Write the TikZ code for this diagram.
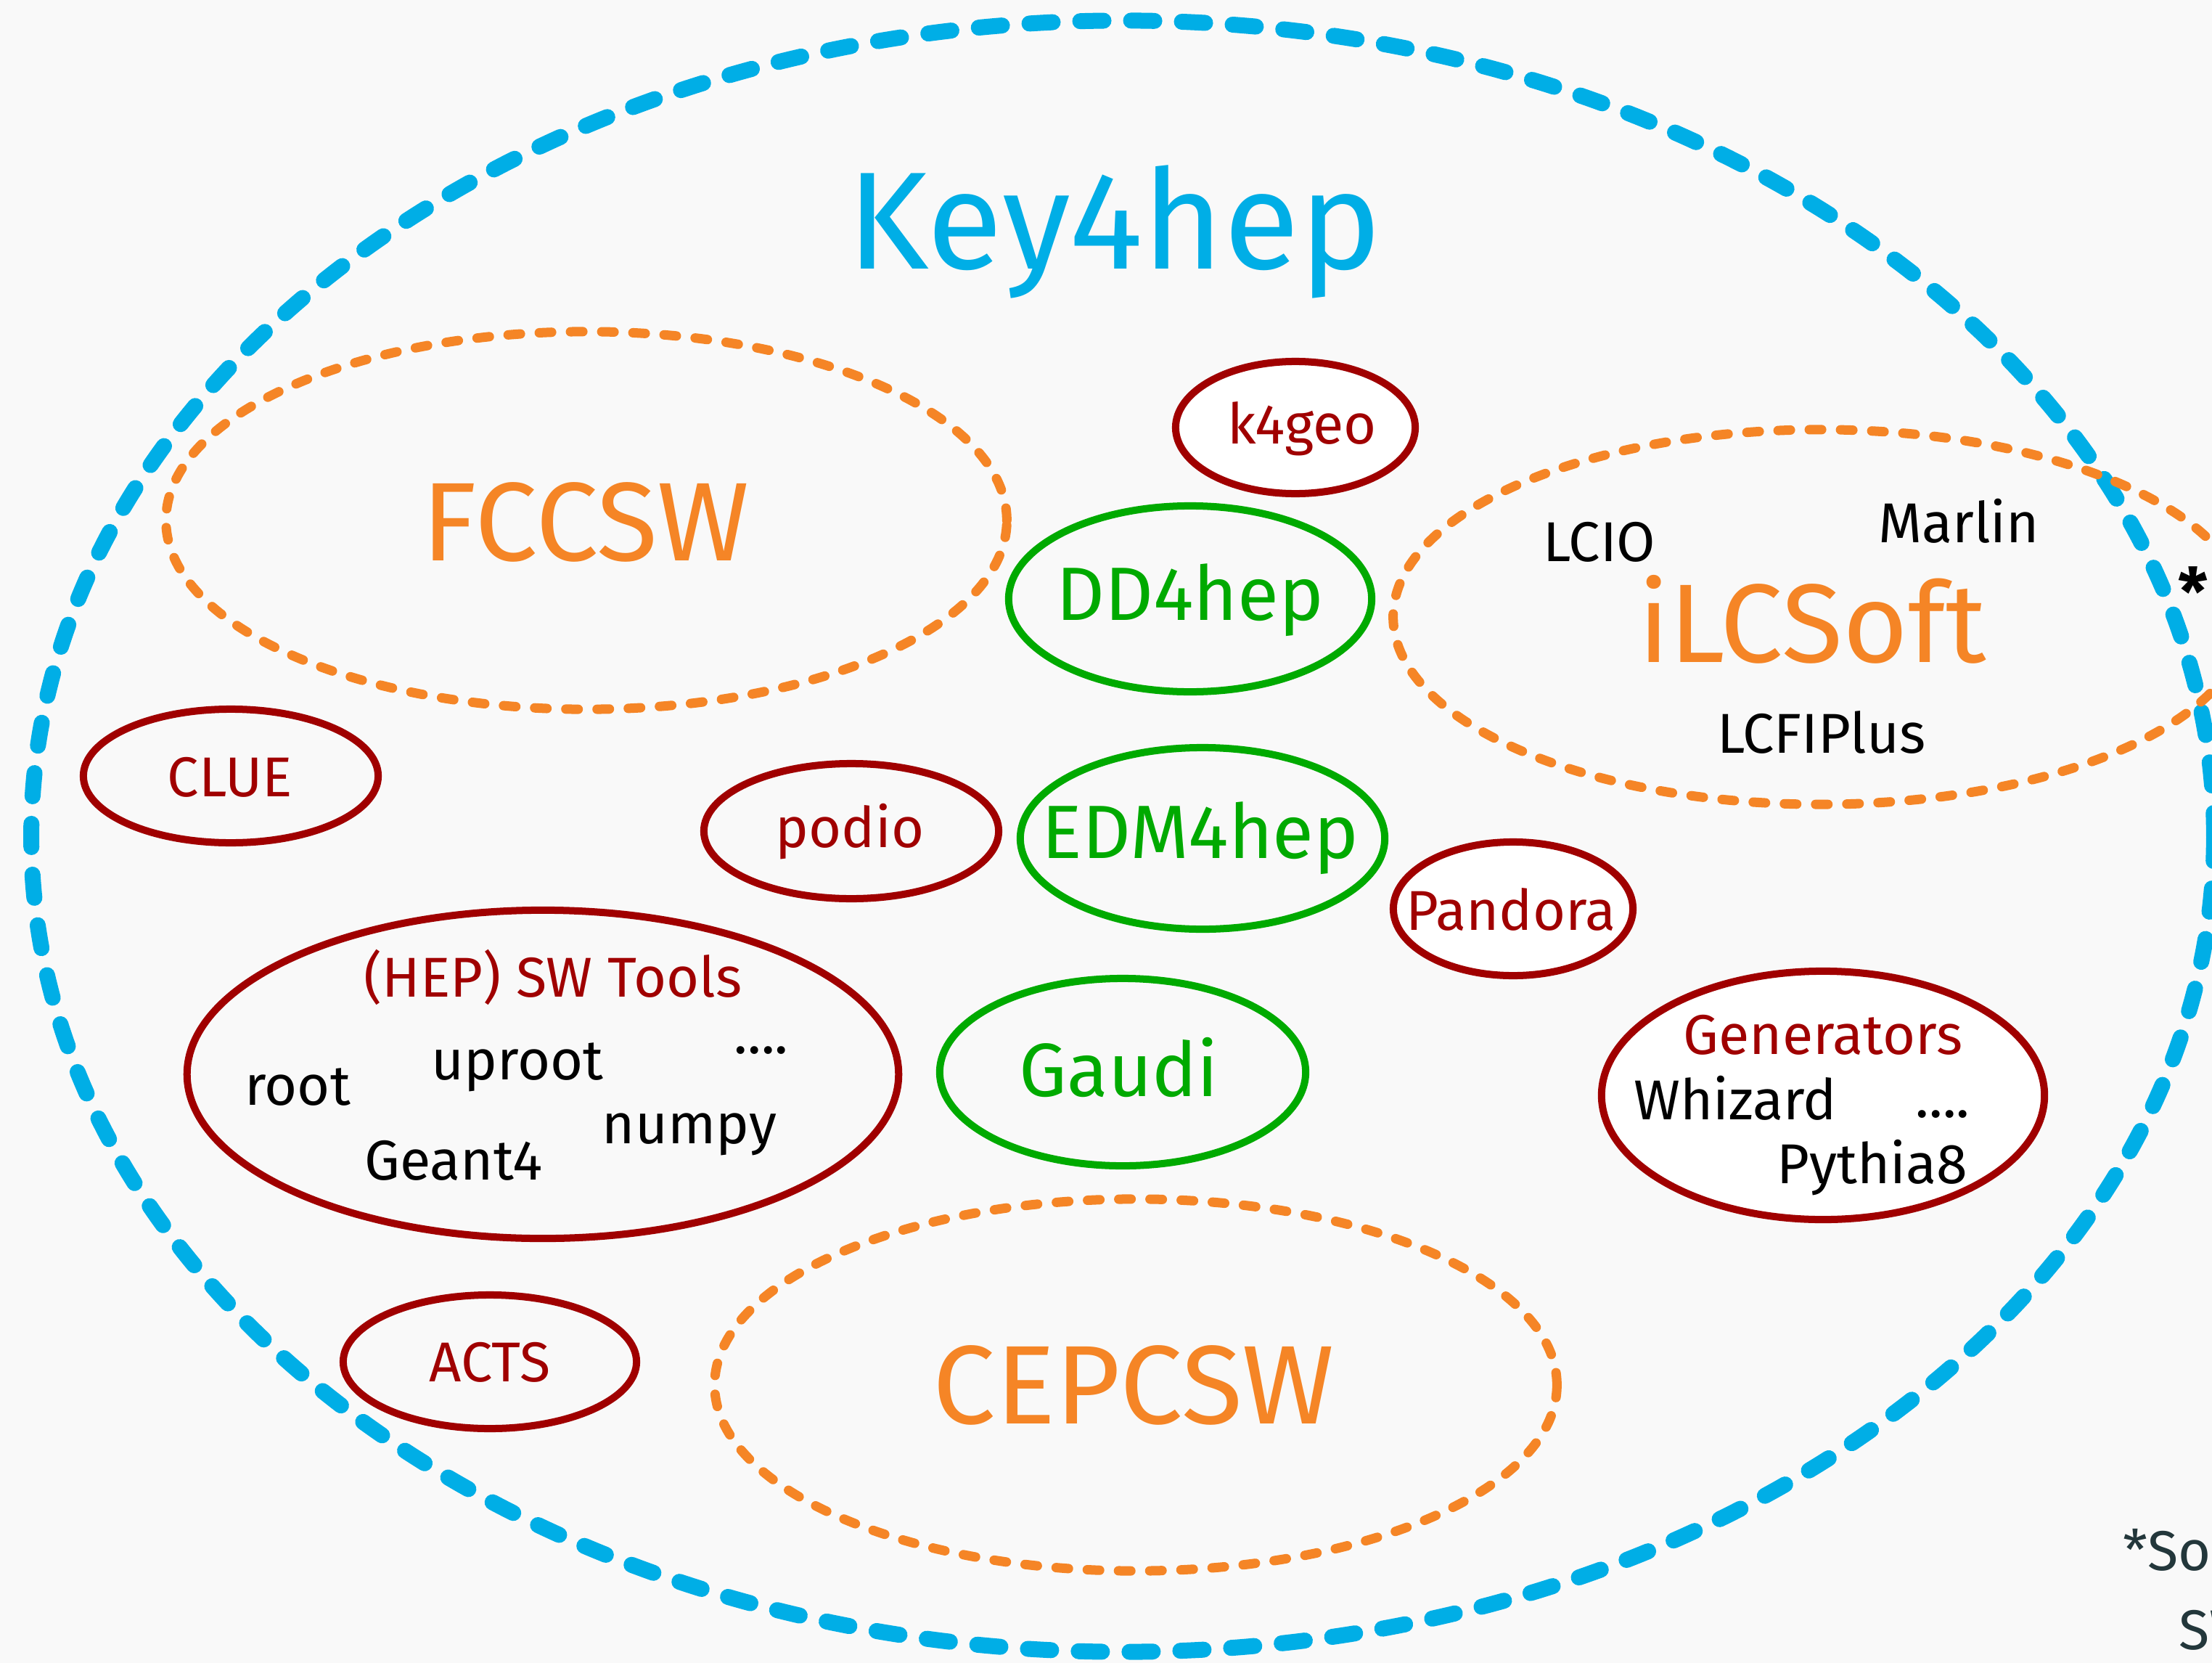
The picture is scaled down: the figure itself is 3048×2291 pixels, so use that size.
\documentclass[tikz,border=0pt]{standalone}
\usepackage{fontspec}
\setmainfont{Fira Sans}
\usetikzlibrary{shapes.geometric}
\definecolor{kblue}{RGB}{0,174,230}
\definecolor{korange}{RGB}{245,133,38}
\definecolor{kred}{RGB}{160,0,0}
\definecolor{kgreen}{RGB}{0,170,0}
\definecolor{kbg}{RGB}{249,249,249}
\definecolor{knote}{RGB}{35,55,59}
\begin{document}
\begin{tikzpicture}[x=0.01cm,y=-0.01cm,
  bluering/.style={draw=kblue, ellipse, line width=0.22cm, dash pattern=on 0.32cm off 0.38cm, line cap=round, inner sep=0pt},
  orangering/.style={draw=korange, ellipse, line width=0.13cm, dash pattern=on 0.17cm off 0.26cm, line cap=round, inner sep=0pt},
  redring/.style={draw=kred, ellipse, line width=0.1cm, inner sep=0pt},
  greenring/.style={draw=kgreen, ellipse, line width=0.1cm, inner sep=0pt},
  txt/.style={anchor=base, inner sep=0pt},
  small/.style={txt, font=\fontsize{22}{26}\selectfont},
  redlbl/.style={small, text=kred},
  blacklbl/.style={small, text=black},
  greenlbl/.style={txt, text=kgreen, font=\fontsize{29.6}{35}\selectfont},
  biglbl/.style={txt, text=korange, font=\fontsize{43.8}{52}\selectfont},
  titlelbl/.style={txt, text=kblue, font=\fontsize{54.3}{64}\selectfont},
  notelbl/.style={anchor=base west, inner sep=0pt, text=knote, font=\fontsize{22}{26}\selectfont}
]
\fill[kbg] (0,0) rectangle (3048,2291);
\useasboundingbox (0,0) rectangle (3048,2291);
\clip (0,0) rectangle (3048,2291);

% outer Key4hep ring
\node[bluering, minimum width=30.06cm, minimum height=22.46cm] (k4h) at (1547,1152) {};
% framework rings
\node[orangering, minimum width=11.58cm, minimum height=5.20cm] (fcc) at (808,717) {};
\node[orangering, minimum width=11.76cm, minimum height=5.16cm] (ilc) at (2508,850) {};
\node[orangering, minimum width=11.60cm, minimum height=5.12cm] (cep) at (1565,1908) {};
% components
\node[redring, fill=white, minimum width=3.30cm, minimum height=1.82cm] (k4geo) at (1785,589) {};
\node[greenring, minimum width=5.00cm, minimum height=2.56cm] (dd4) at (1640,825) {};
\node[greenring, minimum width=5.02cm, minimum height=2.50cm] (edm) at (1657,1155) {};
\node[greenring, minimum width=5.04cm, minimum height=2.58cm] (gaudi) at (1547,1477) {};
\node[redring, minimum width=4.06cm, minimum height=1.86cm] (podio) at (1173,1145) {};
\node[redring, minimum width=4.06cm, minimum height=1.84cm] (clue) at (318,1069) {};
\node[redring, fill=white, minimum width=3.30cm, minimum height=1.84cm] (pandora) at (2085,1252) {};
\node[redring, minimum width=9.80cm, minimum height=4.52cm] (tools) at (748,1480) {};
\node[redring, fill=white, minimum width=6.10cm, minimum height=3.42cm] (gen) at (2512,1509) {};
\node[redring, minimum width=4.04cm, minimum height=1.84cm] (acts) at (675,1876) {};

% labels
\node[titlelbl] (tkey) at (1536,370) {Key4hep};
\node[biglbl] (tfcc) at (807,772) {FCCSW};
\node[biglbl] (tilc) at (2497,912) {iLCSoft};
\node[biglbl] (tcep) at (1562,1961) {CEPCSW};
\node[greenlbl] (tdd4) at (1640,854) {DD4hep};
\node[greenlbl] (tedm) at (1654,1182) {EDM4hep};
\node[greenlbl] (tgaudi) at (1542,1510) {Gaudi};
\node[redlbl] (tk4geo) at (1794,611) {k4geo};
\node[redlbl] (tpodio) at (1171,1167) {podio};
\node[redlbl] (tclue) at (317,1097) {CLUE};
\node[redlbl] (tpandora) at (2082,1281) {Pandora};
\node[redlbl] (tacts) at (675,1903) {ACTS};
\node[redlbl] (ttools) at (762,1373) {(HEP) SW Tools};
\node[blacklbl] (troot) at (410,1522) {root};
\node[blacklbl] (tuproot) at (713,1487) {uproot};
\node[blacklbl] (tdots1) at (1049,1451) {....};
\node[blacklbl] (tnumpy) at (950,1575) {numpy};
\node[blacklbl] (tgeant) at (625,1625) {Geant4};
\node[redlbl] (tgen) at (2512,1452) {Generators};
\node[blacklbl] (twhiz) at (2391,1542) {Whizard};
\node[blacklbl] (tdots2) at (2677,1539) {....};
\node[blacklbl] (tpythia) at (2580,1630) {Pythia8};
\node[blacklbl] (tlcio) at (2204,773) {LCIO};
\node[blacklbl] (tmarlin) at (2699,747) {Marlin};
\node[blacklbl] (tlcfi) at (2510,1037) {LCFIPlus};
\node[inner sep=0pt, font=\fontsize{26}{30}\selectfont\bfseries] (tstar) at (3022,815) {*};
\node[notelbl] (tnote1) at (2925,2163) {*So};
\node[notelbl] (tnote2) at (3002,2272) {SW};
\end{tikzpicture}
\end{document}
